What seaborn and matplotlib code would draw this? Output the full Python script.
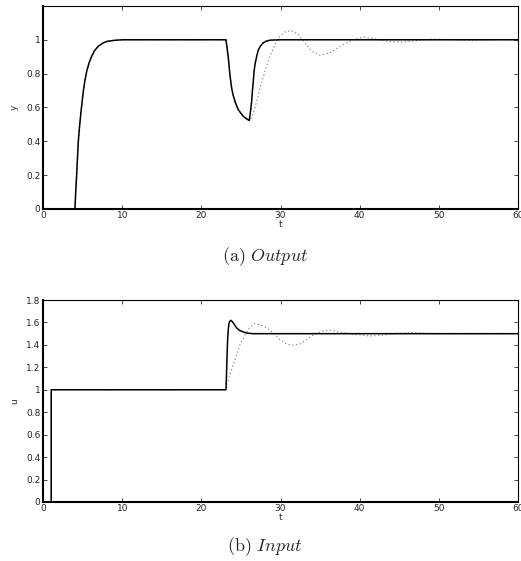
import numpy as np
import pandas as pd
import seaborn as sns
import matplotlib.pyplot as plt

sns.set_theme(style="ticks")
plt.rcParams.update({
    "font.family": ["DejaVu Sans"],
    "mathtext.fontset": "cm",
    "xtick.labelsize": 6.5,
    "ytick.labelsize": 6.5,
    "axes.labelsize": 6.5,
})

# ---- output y: shared part (both controllers identical until the dip bottom)
t_y_common = [0, 4.0, 4.1, 4.22, 4.32, 4.43, 4.58, 4.73, 4.9, 5.06, 5.27, 5.49, 5.8,
              6.12, 6.5, 6.96, 7.5, 8.0, 9.0, 10.0, 23.0,
              23.1, 23.25, 23.4, 23.6, 23.82, 24.0, 24.24, 24.45, 24.66, 25.0,
              25.3, 25.7, 26.05]
y_common = [0, 0, 0.10, 0.20, 0.30, 0.40, 0.485, 0.557, 0.63, 0.695, 0.76, 0.814, 0.865,
            0.903, 0.937, 0.962, 0.979, 0.99, 0.997, 1.0, 1.0,
            1.0, 0.95, 0.893, 0.794, 0.715, 0.675, 0.636, 0.61, 0.587, 0.565,
            0.547, 0.533, 0.523]

# solid recovery
t_y_solid = [26.2, 26.35, 26.45, 26.56, 26.65, 26.77, 27.0, 27.2, 27.5, 27.82, 28.2,
             28.7, 30.0, 60.0]
y_solid = [0.575, 0.636, 0.70, 0.755, 0.81, 0.854, 0.905, 0.942, 0.965, 0.982, 0.992,
           0.998, 1.0, 1.0]

# dotted recovery
t_y_dot = [26.4, 26.77, 27.4, 28.04, 28.67, 29.3, 29.94, 30.57, 31.33, 32.25, 33.1,
           33.94, 35.0, 36.26, 37.94, 39.2, 40.47, 41.73, 43.43, 45.1, 46.8, 49.3,
           51.8, 54.0, 56.0, 60.0]
y_dot = [0.545, 0.597, 0.715, 0.814, 0.903, 0.972, 1.021, 1.047, 1.055, 1.031, 0.982,
         0.932, 0.909, 0.923, 0.972, 1.0, 1.016, 1.008, 0.992, 0.986, 0.994, 1.004,
         1.0, 0.997, 1.0, 1.0]

# ---- input u: shared part
t_u_common = [0, 1.0, 1.0, 23.1]
u_common = [0, 0, 1.0, 1.0]

t_u_solid = [23.17, 23.23, 23.32, 23.4, 23.49, 23.6, 23.7, 23.85, 24.03, 24.25, 24.46,
             24.75, 25.09, 25.7, 26.5, 60.0]
u_solid = [1.14, 1.283, 1.462, 1.54, 1.595, 1.612, 1.619, 1.612, 1.595, 1.573, 1.551,
           1.533, 1.521, 1.506, 1.5, 1.5]

t_u_dot = [23.2, 23.6, 24.03, 24.46, 24.88, 25.5, 26.14, 26.77, 27.4, 28.25, 29.1,
           29.94, 30.78, 31.6, 32.46, 33.3, 34.36, 35.6, 36.47, 37.9, 39.6, 41.3,
           42.6, 44.7, 46.8, 49.0, 60.0]
u_dot = [1.046, 1.135, 1.224, 1.313, 1.402, 1.49, 1.557, 1.589, 1.58, 1.551, 1.506,
         1.447, 1.408, 1.396, 1.408, 1.447, 1.5, 1.527, 1.53, 1.51, 1.491, 1.479,
         1.485, 1.503, 1.509, 1.5, 1.5]

df_y_solid = pd.DataFrame({"t": t_y_common + t_y_solid, "v": y_common + y_solid})
df_y_dot = pd.DataFrame({"t": t_y_common + t_y_dot, "v": y_common + y_dot})
df_u_solid = pd.DataFrame({"t": t_u_common + t_u_solid, "v": u_common + u_solid})
df_u_dot = pd.DataFrame({"t": t_u_common + t_u_dot, "v": u_common + u_dot})

fig = plt.figure(figsize=(5.21, 5.61), dpi=100)
ax1 = fig.add_axes([0.0831, 0.6275, 0.9106, 0.3619])
ax2 = fig.add_axes([0.0831, 0.1052, 0.9106, 0.3600])


def style_axis(ax, ylim, yticks, ylabel):
    ax.set_xlim(0, 60)
    ax.set_ylim(*ylim)
    ax.set_xticks([0, 10, 20, 30, 40, 50, 60])
    ax.set_yticks(yticks)
    ax.set_yticklabels([f"{v:g}" for v in yticks])
    ax.tick_params(axis="x", direction="in", top=True, length=3, width=0.6, pad=1.5)
    ax.tick_params(axis="y", direction="in", right=True, length=3, width=0.6, pad=2)
    for side in ["left", "bottom"]:
        ax.spines[side].set_linewidth(1.5)
    for side in ["top", "right"]:
        ax.spines[side].set_linewidth(0.8)
    for s in ax.spines.values():
        s.set_color("black")
    ax.set_xlabel("t", labelpad=0)
    ax.set_ylabel(ylabel, labelpad=5)


sns.lineplot(data=df_y_dot, x="t", y="v", ax=ax1, color="#8c8c8c", linewidth=0.9,
             linestyle=(0, (1, 2)), estimator=None, sort=False, zorder=2)
sns.lineplot(data=df_y_solid, x="t", y="v", ax=ax1, color="black", linewidth=1.1,
             estimator=None, sort=False, zorder=3)
style_axis(ax1, (0, 1.2), [0, 0.2, 0.4, 0.6, 0.8, 1], "y")

sns.lineplot(data=df_u_dot, x="t", y="v", ax=ax2, color="#8c8c8c", linewidth=0.9,
             linestyle=(0, (1, 2)), estimator=None, sort=False, zorder=2)
sns.lineplot(data=df_u_solid, x="t", y="v", ax=ax2, color="black", linewidth=1.1,
             estimator=None, sort=False, zorder=3)
style_axis(ax2, (0, 1.8), [0, 0.2, 0.4, 0.6, 0.8, 1, 1.2, 1.4, 1.6, 1.8], "u")

fig.text(0.509, 0.542, r"$\mathrm{(a)}\ \mathit{Output}$", ha="center", va="center",
         fontsize=13)
fig.text(0.509, 0.025, r"$\mathrm{(b)}\ \mathit{Input}$", ha="center", va="center",
         fontsize=13)

fig.savefig("out.png", dpi=100)
